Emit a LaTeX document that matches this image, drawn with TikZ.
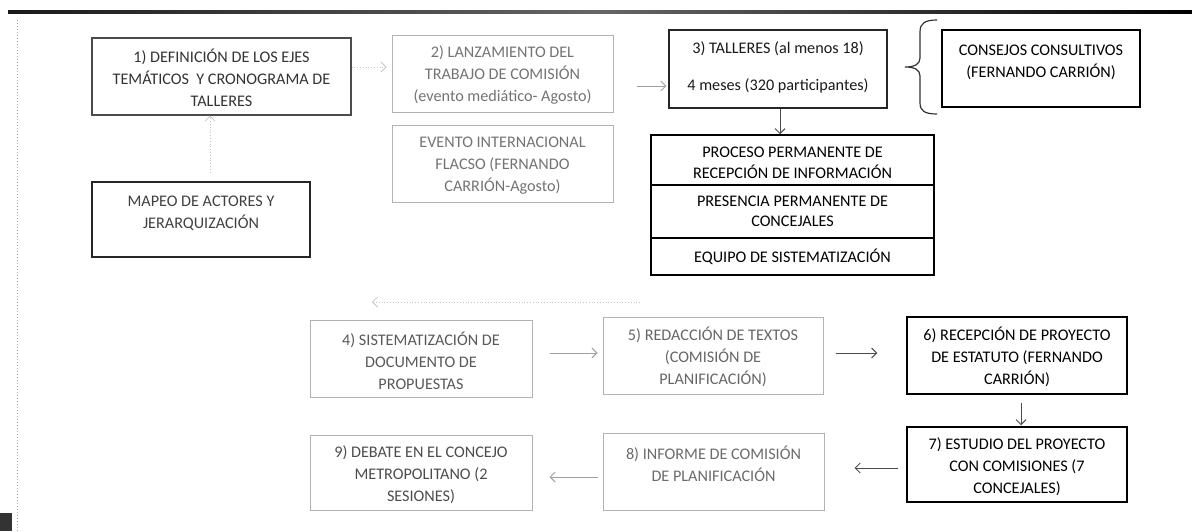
\documentclass[tikz,border=0pt]{standalone}
\usepackage{fontspec}
\setmainfont{Carlito}
\usetikzlibrary{arrows.meta,fit}
\begin{document}
\begin{tikzpicture}[x=0.5pt,y=-0.5pt,
  box/.style={inner sep=0pt},
  txt/.style={inner sep=0pt, align=center, font=\fontsize{8.1}{11}\selectfont},
  stxt/.style={txt, font=\fontsize{8.1}{10.25}\selectfont},
  dbox/.style={box, draw=black!85, line width=0.6pt},
  hbox/.style={box, draw=black, line width=0.75pt},
  lbox/.style={box, draw=gray!60, line width=0.5pt},
  arr/.style={-{Straight Barb[length=2.5pt,width=5pt]}, line width=0.45pt, draw=gray!75},
  darr/.style={-{Straight Barb[length=2.5pt,width=5pt]}, line width=0.5pt, draw=black!70},
  larr/.style={-{Straight Barb[length=2.5pt,width=5pt]}, line width=0.4pt, draw=gray!45, densely dotted},
]
\useasboundingbox (0,0) rectangle (1192,531);
% page decoration
\shade[left color=black!90, right color=black, middle color=black!60] (8,10.5) rectangle (1192,13.5);
\draw[gray!70, line width=0.5pt, densely dotted] (17,20) -- (17,531);
\fill[black!80] (0,513) rectangle (12,531);

% top row
\node[dbox, draw=black!70, fit={(92,38) (351,115)}] (b1) {};
\node[txt, text=black!80] (b1t) at ([yshift=-0.4pt]b1.center)
  {1) DEFINICIÓN DE LOS EJES\\TEMÁTICOS \ Y CRONOGRAMA DE\\TALLERES};
\node[dbox, fit={(92,182) (310,257)}] (mapeo) {};
\node[txt, text=black!75] (mapeot) at ([yshift=3pt]mapeo.center) {MAPEO DE ACTORES Y\\JERARQUIZACIÓN};
\node[lbox, fit={(392,35) (613,112)}] (b2) {};
\node[txt, text=black!55] (b2t) at ([yshift=-0.75pt]b2.center)
  {2) LANZAMIENTO DEL\\TRABAJO DE COMISIÓN\\(evento mediático- Agosto)};
\node[lbox, fit={(392,125) (613,202)}] (ev) {};
\node[txt, text=black!55] (evt) at ([yshift=-1.1pt]ev.center)
  {EVENTO INTERNACIONAL\\FLACSO (FERNANDO\\CARRIÓN-Agosto)};
\node[dbox, fit={(669,30) (887,108)}] (b3) {};
\node[txt, text=black!90] (b3t) at ([yshift=0.75pt]b3.center)
  {3) TALLERES (al menos 18)\\[7.5pt]4 meses (320 participantes)};
\node[hbox, fit={(942,30) (1140,107)}] (cons) {};
\node[txt] (const) at ([yshift=3.25pt]cons.center) {CONSEJOS CONSULTIVOS\\(FERNANDO CARRIÓN)};

% brace
\coordinate (brt) at (937,20);
\coordinate (brm) at (905,67);
\coordinate (brb) at (937,114);
\draw[black!80, line width=0.6pt] (brt) .. controls (925,20) and (920,23) .. (920,32) -- (920,58)
  .. controls (920,64) and (915,67) .. (brm)
  .. controls (915,67) and (920,70) .. (920,76) -- (920,103)
  .. controls (920,111) and (925,114) .. (brb);

% stack
\node[hbox, fit={(651,135) (934,185)}] (s1) {};
\node[stxt] (s1t) at ([yshift=-1.5pt]s1.center) {PROCESO PERMANENTE DE\\RECEPCIÓN DE INFORMACIÓN};
\node[hbox, fit={(651,185) (934,238)}] (s2) {};
\node[stxt] (s2t) at (s2.center) {PRESENCIA PERMANENTE DE\\CONCEJALES};
\node[hbox, fit={(651,238) (934,275)}] (s3) {};
\node[stxt] (s3t) at (s3.center) {EQUIPO DE SISTEMATIZACIÓN};

% lower rows
\node[lbox, fit={(310,320) (532,397)}] (b4) {};
\node[txt, text=black!65] (b4t) at ([yshift=-1.1pt]b4.center)
  {4) SISTEMATIZACIÓN DE\\DOCUMENTO DE\\PROPUESTAS};
\node[lbox, fit={(603,317) (823,394)}] (b5) {};
\node[txt, text=black!60] (b5t) at ([yshift=-0.75pt]b5.center)
  {5) REDACCIÓN DE TEXTOS\\(COMISIÓN DE\\PLANIFICACIÓN)};
\node[hbox, fit={(907,317) (1127,394)}] (b6) {};
\node[txt] (b6t) at ([yshift=-0.75pt]b6.center)
  {6) RECEPCIÓN DE PROYECTO\\DE ESTATUTO (FERNANDO\\CARRIÓN)};
\node[hbox, fit={(907,427) (1127,502)}] (b7) {};
\node[txt] (b7t) at ([yshift=-1.25pt]b7.center)
  {7) ESTUDIO DEL PROYECTO\\CON COMISIONES (7\\CONCEJALES)};
\node[lbox, fit={(603,433) (824,510)}] (b8) {};
\node[txt, text=black!58] (b8t) at ([yshift=3.75pt]b8.center) {8) INFORME DE COMISIÓN\\DE PLANIFICACIÓN};
\node[lbox, fit={(310,435) (532,510)}] (b9) {};
\node[txt, text=black!70] (b9t) at ([yshift=-1.1pt]b9.center)
  {9) DEBATE EN EL CONCEJO\\METROPOLITANO (2\\SESIONES)};

% connectors
\draw[larr] ([xshift=4.5pt,yshift=4.5pt]mapeo.north) -- ([xshift=4.5pt]mapeo.north |- b1.south);
\draw[larr, shorten >=2.5pt] ([yshift=4.75pt]b1.east) -- ([yshift=4.75pt]b1.east -| b2.west);
\draw[arr, shorten <=11.5pt, shorten >=1pt] ([yshift=-6.25pt]b2.east) -- ([yshift=-6.25pt]b2.east -| b3.west);
\draw[darr] ([xshift=1pt]b3.south) -- ([xshift=1pt]b3.south |- s1.north);
\coordinate (la1) at (640,302);
\coordinate (la2) at (372,302);
\draw[larr] (la1) -- (la2);
\draw[arr, shorten <=8.5pt, shorten >=2.5pt] ([yshift=2.75pt]b4.east) -- ([yshift=2.75pt]b4.east -| b5.west);
\draw[darr, shorten <=6pt, shorten >=14.5pt] ([yshift=1.25pt]b5.east) -- ([yshift=1.25pt]b5.east -| b6.west);
\draw[darr, shorten <=4pt, shorten >=0.5pt] ([xshift=2pt]b6.south) -- ([xshift=2pt]b6.south |- b7.north);
\draw[darr, shorten <=4pt, shorten >=15pt] ([yshift=-1.75pt]b7.west) -- ([yshift=-1.75pt]b7.west -| b8.east);
\draw[arr, shorten <=2.5pt, shorten >=8.5pt] ([yshift=-2.75pt]b8.west) -- ([yshift=-2.75pt]b8.west -| b9.east);
\end{tikzpicture}
\end{document}
